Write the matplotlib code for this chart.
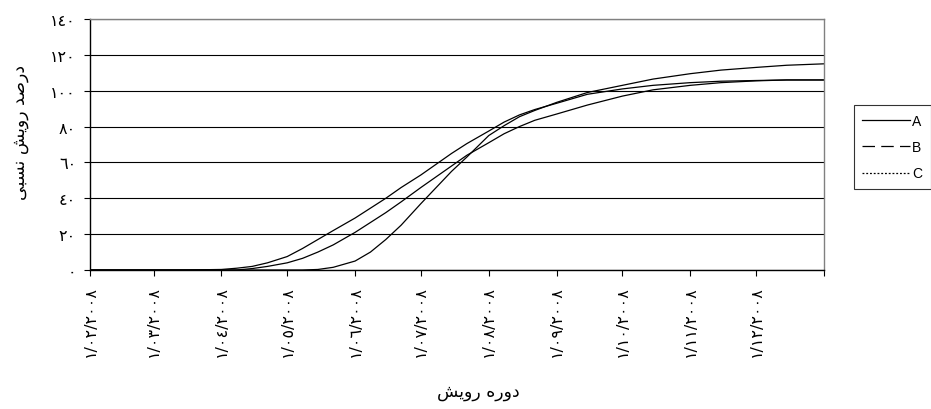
import numpy as np
import pandas as pd
import matplotlib
matplotlib.use("Agg")
import matplotlib.pyplot as plt
import matplotlib.dates as mdates
from matplotlib.ticker import FuncFormatter

# growth curves, sampled roughly weekly through the fast-growth season
dates = pd.to_datetime([
    "2008-02-01", "2008-03-01", "2008-03-15", "2008-04-01", "2008-04-08",
    "2008-04-15", "2008-04-22", "2008-05-01", "2008-05-08", "2008-05-15",
    "2008-05-22", "2008-06-01", "2008-06-08", "2008-06-15", "2008-06-22",
    "2008-07-01", "2008-07-08", "2008-07-15", "2008-07-22", "2008-08-01",
    "2008-08-08", "2008-08-15", "2008-08-22", "2008-09-01", "2008-09-15",
    "2008-10-01", "2008-10-15", "2008-11-01", "2008-11-15", "2008-12-01",
    "2008-12-15", "2009-01-01",
])
series_a = [0, 0, 0, 0.3, 1, 2, 4, 7.5, 12, 17, 22, 29, 34.5, 40, 46,
            53, 59, 65, 70.5, 77.5, 82.5, 86.5, 89.5, 93, 98, 101, 103,
            104.5, 105.3, 105.7, 106, 106]
series_b = [0, 0, 0, 0, 0, 0.8, 2, 4, 6.5, 10, 14, 21, 26.5, 32, 38,
            46, 52, 58, 64, 71, 76, 80, 83.5, 87, 92, 97, 100.5,
            103, 104.5, 105.5, 106, 106]
series_c = [0, 0, 0, 0, 0, 0, 0, 0, 0, 0.3, 1.5, 5, 10, 17, 25,
            37, 46, 55, 63, 75, 80.5, 85.5, 89, 93.5, 99, 103, 106.5,
            109.5, 111.5, 113, 114.2, 115]
labels = ["A", "B", "C"]

y_ticks = [0, 20, 40, 60, 80, 100, 120, 140]
month_ticks = pd.date_range("2008-02-01", "2008-12-01", freq="MS")

# Persian labels written out in presentation forms, visual order
ylabel_fa = "\uFBFD\uFE92\uFEB4\uFEE7 \uFEB6\uFBFE\uFEED\uFEAD \uFEAA\uFEBB\uFEAD\uFEA9"
xlabel_fa = "\uFEB6\uFBFE\uFEED\uFEAD \uFEE9\uFEAD\uFEED\uFEA9"

DIGITS = str.maketrans("0123456789", "\u0660\u0661\u0662\u0663\u0664\u0665\u0666\u0667\u0668\u0669")


def fa(s):
    return str(s).translate(DIGITS)


plt.rcParams["font.family"] = ["DejaVu Sans"]

fig = plt.figure(figsize=(9.31, 4.10), dpi=100)
ax = fig.add_axes([90 / 931, 1 - 271 / 410, 734 / 931, 251 / 410])

for vals, lab in zip([series_a, series_b, series_c], labels):
    ax.plot(dates, vals, color="black", lw=0.9, label=lab)

ax.set_ylim(0, 140)
ax.set_xlim(pd.Timestamp("2008-02-01"), pd.Timestamp("2009-01-01"))
ax.set_yticks(y_ticks)
ax.set_xticks(list(month_ticks) + [pd.Timestamp("2009-01-01")])
ax.yaxis.set_major_formatter(FuncFormatter(lambda v, p: fa(int(round(v)))))
ax.xaxis.set_major_formatter(FuncFormatter(
    lambda v, p: "" if mdates.num2date(v).year > 2008
    else fa(mdates.num2date(v).strftime("1/%m/%Y"))))

ax.grid(axis="y", color="black", lw=0.8)
ax.set_axisbelow(True)
for side in ["top", "right"]:
    ax.spines[side].set_color("#808080")
    ax.spines[side].set_linewidth(1.0)
for side in ["left", "bottom"]:
    ax.spines[side].set_color("black")
    ax.spines[side].set_linewidth(1.0)

ax.tick_params(axis="y", length=4, width=0.8, pad=6, labelsize=11.5)
ax.tick_params(axis="x", length=4, width=0.8, pad=7, labelsize=11.5, labelrotation=90)

fig.text(20 / 931, 1 - 133 / 410, ylabel_fa, rotation=90, ha="center", va="center", fontsize=12.5)
fig.text(478 / 931, 1 - 392 / 410, xlabel_fa, ha="center", va="center", fontsize=12.5)

leg = fig.legend(loc="center left", bbox_to_anchor=(854 / 931, 1 - 148 / 410),
                 borderaxespad=0, frameon=True, fancybox=False, edgecolor="black",
                 handlelength=3.4, labelspacing=0.9, borderpad=0.6, handletextpad=0.2,
                 prop={"family": "Liberation Sans", "size": 10})
leg.get_frame().set_linewidth(0.8)
leg.get_lines()[1].set_linestyle((0, (10, 5)))
leg.get_lines()[2].set_linestyle((0, (1.5, 1.5)))

fig.savefig("out.png", dpi=100)
